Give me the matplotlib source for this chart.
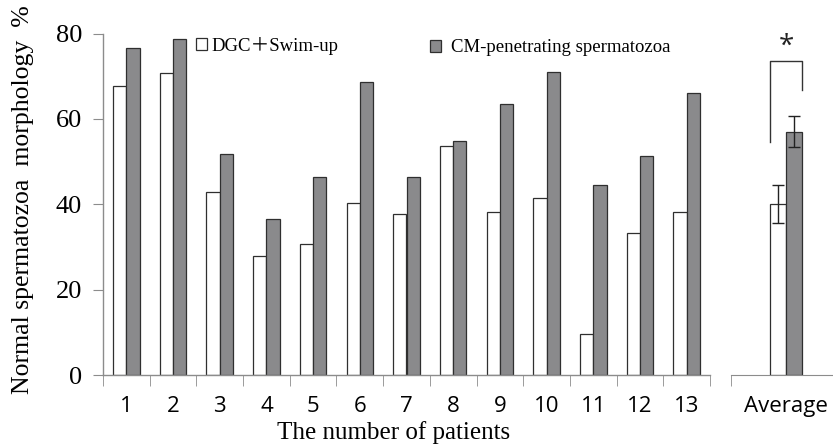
import numpy as np
import matplotlib
matplotlib.use("Agg")
import matplotlib.pyplot as plt
from matplotlib.patches import Patch

# values
patients = ["1", "2", "3", "4", "5", "6", "7", "8", "9", "10", "11", "12", "13"]
dgc_swimup = [67.8, 70.8, 42.8, 27.9, 30.7, 40.2, 37.7, 53.6, 38.3, 41.5, 9.5, 33.3, 38.2]
cm_penetrating = [76.5, 78.6, 51.8, 36.5, 46.4, 68.7, 46.4, 54.9, 63.6, 71.0, 44.6, 51.4, 66.0]

avg_label = ["Average"]
avg_means = [40.1, 57.0]
avg_errors = [4.5, 3.7]
bracket_top = 73.5
bracket_legs = [54.6, 66.7]  # bottom of left / right leg

series_names = ["DGC\uff0bSwim-up", "CM-penetrating spermatozoa"]
white_col = "white"
gray_col = "#8a8a8c"
edge_col = "#2f2f2f"
spine_col = "#8c8c8c"

serif = ["Liberation Serif", "Noto Sans CJK SC", "DejaVu Serif"]
sans = ["Open Sans", "DejaVu Sans"]

W, H = 833, 448
fig = plt.figure(figsize=(W / 100, H / 100), dpi=100)

def px_axes(x0, x1, ytop, ybot):
    return fig.add_axes([x0 / W, 1 - ybot / H, (x1 - x0) / W, (ybot - ytop) / H])

ax = px_axes(103, 710, 33.5, 375)
ax2 = px_axes(731, 833, 33.5, 375)

# main panel
x = np.arange(len(patients))
w = 0.285
ax.bar(x - w / 2, dgc_swimup, w, color=white_col, edgecolor=edge_col, linewidth=0.9)
ax.bar(x + w / 2, cm_penetrating, w, color=gray_col, edgecolor=edge_col, linewidth=0.9)
ax.set_xlim(-0.5, len(patients) - 0.5)
ax.set_ylim(0, 80)
ax.set_yticks([0, 20, 40, 60, 80])
ax.set_xticks(x)
ax.set_xticklabels(patients, fontfamily=sans, fontsize=16)
ax.set_xticks(np.arange(len(patients) + 1) - 0.5, minor=True)
ax.tick_params(axis="x", which="major", length=0, pad=15)
ax.tick_params(axis="x", which="minor", length=8, color=spine_col, direction="out")
ax.tick_params(axis="y", length=7, color=spine_col, labelsize=19, pad=8)
for lab in ax.get_yticklabels():
    lab.set_fontfamily(serif)
for s in ["top", "right"]:
    ax.spines[s].set_visible(False)
for s in ["left", "bottom"]:
    ax.spines[s].set_color(spine_col)
    ax.spines[s].set_linewidth(1.0)

# average panel
wa = 0.3
xa = np.array([-wa / 2, wa / 2])
ekw = dict(ecolor="#222222", elinewidth=1.0, capthick=1.0)
ax2.bar(xa[0], avg_means[0], wa, color=white_col, edgecolor=edge_col, linewidth=0.9,
        yerr=avg_errors[0], capsize=4, error_kw=ekw)
ax2.bar(xa[1], avg_means[1], wa, color=gray_col, edgecolor=edge_col, linewidth=0.9,
        yerr=avg_errors[1], capsize=4, error_kw=ekw)
ax2.set_xlim(-1.03, 0.88)
ax2.set_ylim(0, 80)
ax2.set_yticks([])
ax2.set_xticks([0])
ax2.set_xticklabels(avg_label, fontfamily=sans, fontsize=16)
ax2.set_xticks([-1.03], minor=True)
ax2.tick_params(axis="x", which="major", length=0, pad=15)
ax2.tick_params(axis="x", which="minor", length=8, color=spine_col)
for s in ["top", "right", "left"]:
    ax2.spines[s].set_visible(False)
ax2.spines["bottom"].set_color(spine_col)

# significance bracket
bx = [xa[0] - wa / 2, xa[1] + wa / 2]
ax2.plot([bx[0], bx[0], bx[1], bx[1]],
         [bracket_legs[0], bracket_top, bracket_top, bracket_legs[1]],
         color="#333333", linewidth=1.0, clip_on=False)
ax2.text(0, bracket_top + 3.3, "*", ha="center", va="center", fontsize=20,
         fontfamily=sans, color="#222222")

# legends
h1 = Patch(facecolor=white_col, edgecolor=edge_col, linewidth=0.9, label=series_names[0])
h2 = Patch(facecolor=gray_col, edgecolor=edge_col, linewidth=0.9, label=series_names[1])
leg_kw = dict(frameon=False, handlelength=0.6, handleheight=0.6,
              borderpad=0, borderaxespad=0, prop={"family": serif, "size": 13.5})
fig.legend(handles=[h1], loc="center left", bbox_to_anchor=(196 / W, 1 - 46 / H),
           handletextpad=0.2, **leg_kw)
fig.legend(handles=[h2], loc="center left", bbox_to_anchor=(430 / W, 1 - 48 / H),
           handletextpad=0.5, **leg_kw)

# axis titles
fig.text(394 / W, 1 - 433 / H, "The number of patients", ha="center", va="center",
         fontfamily=serif, fontsize=18)
fig.text(23 / W, 1 - 200 / H, "Normal spermatozoa  morphology  %", ha="center", va="center",
         rotation=90, fontfamily=serif, fontsize=18.5)

fig.savefig("out.png", dpi=100)
